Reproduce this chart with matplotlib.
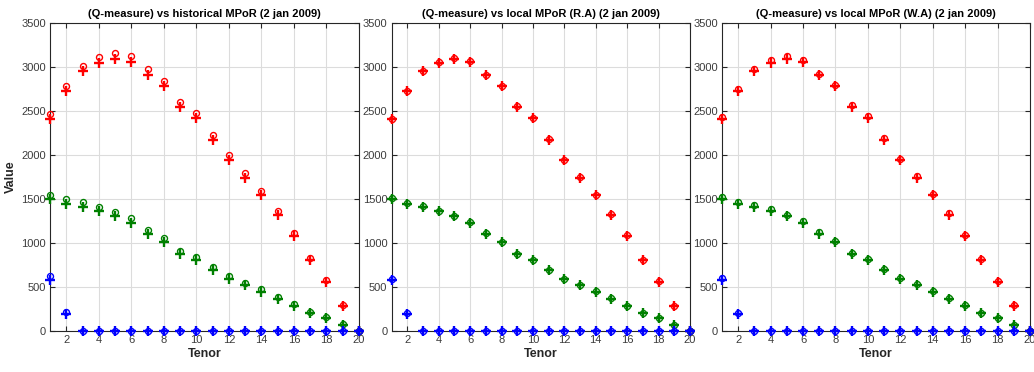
import numpy as np
import matplotlib
matplotlib.use("Agg")
import matplotlib.pyplot as plt

plt.rcParams['font.family'] = ['Liberation Sans', 'DejaVu Sans']

tenor = list(range(1, 21))

# Q-measure (plus markers), same in all panels
q_red = [2402, 2719, 2946, 3048, 3093, 3056, 2901, 2776, 2541, 2413,
         2172, 1937, 1741, 1541, 1322, 1080, 804, 559, 283, 0]
q_green = [1503, 1447, 1408, 1360, 1303, 1231, 1103, 1008, 872, 804,
           691, 589, 518, 445, 366, 283, 200, 144, 68, 0]
q_blue = [578, 189, 0, 0, 0, 0, 0, 0, 0, 0, 0, 0, 0, 0, 0, 0, 0, 0, 0, 0]

# historical MPoR (circles)
hist_red = [2466, 2784, 3014, 3116, 3158, 3119, 2972, 2836, 2598, 2473,
            2224, 1994, 1798, 1590, 1360, 1107, 831, 578, 295, 0]
hist_green = [1549, 1503, 1462, 1408, 1352, 1284, 1144, 1054, 906, 842,
              729, 623, 548, 476, 389, 302, 219, 155, 79, 0]
hist_blue = [623, 219, 0, 0, 0, 0, 0, 0, 0, 0, 0, 0, 0, 0, 0, 0, 0, 0, 0, 0]

# local MPoR (R.A)
ra_red = [2410, 2728, 2955, 3057, 3100, 3062, 2908, 2780, 2550, 2420,
          2180, 1943, 1748, 1548, 1328, 1086, 810, 563, 286, 0]
ra_green = [1508, 1455, 1414, 1366, 1309, 1237, 1110, 1014, 878, 809,
            696, 594, 522, 449, 370, 287, 203, 147, 70, 0]
ra_blue = [590, 205, 0, 0, 0, 0, 0, 0, 0, 0, 0, 0, 0, 0, 0, 0, 0, 0, 0, 0]

# local MPoR (W.A)
wa_red = [2428, 2745, 2972, 3074, 3117, 3080, 2923, 2796, 2562, 2436,
          2193, 1955, 1760, 1558, 1337, 1094, 816, 568, 290, 0]
wa_green = [1525, 1468, 1428, 1380, 1322, 1250, 1121, 1024, 888, 818,
            705, 601, 530, 456, 376, 292, 208, 150, 72, 0]
wa_blue = [598, 200, 0, 0, 0, 0, 0, 0, 0, 0, 0, 0, 0, 0, 0, 0, 0, 0, 0, 0]

titles = ["(Q-measure) vs historical MPoR (2 jan 2009)",
          "(Q-measure) vs local MPoR (R.A) (2 jan 2009)",
          "(Q-measure) vs local MPoR (W.A) (2 jan 2009)"]
circles = [(hist_red, hist_green, hist_blue),
           (ra_red, ra_green, ra_blue),
           (wa_red, wa_green, wa_blue)]

W, H = 1034, 372
fig = plt.figure(figsize=(W / 100, H / 100), dpi=100)
# axes boxes in pixels: left, right
boxes = [(50, 359), (391.6, 690), (722, 1030)]
bottom_px, top_px = 331, 22.7

colors = ['#ff0000', '#008000', '#0000ff']
axcol = '#262626'
labcol = '#3c3c3c'

for i, (l, r) in enumerate(boxes):
    ax = fig.add_axes([l / W, (H - bottom_px) / H, (r - l) / W, (bottom_px - top_px) / H])
    for c, cval, qval in zip(colors, circles[i], [q_red, q_green, q_blue]):
        ax.plot(tenor, cval, 'o', color=c, ms=4.3, mfc='none', mew=1.0, clip_on=False, zorder=3)
        ax.plot(tenor, qval, '+', color=c, ms=7.5, mew=1.7, clip_on=False, zorder=3)
    ax.set_xlim(1, 20)
    ax.set_ylim(0, 3500)
    ax.set_xticks(range(2, 21, 2))
    ax.set_yticks(range(0, 3501, 500))
    ax.grid(True, color='#dcdcdc', lw=0.8)
    ax.set_axisbelow(True)
    ax.tick_params(direction='in', top=True, right=True, length=3.5, width=0.8,
                   labelsize=8, color=axcol, labelcolor=labcol, pad=3)
    for s in ax.spines.values():
        s.set_color(axcol)
        s.set_linewidth(0.8)
    ax.set_title(titles[i], fontsize=8, fontweight='bold', color='black', pad=4)
    ax.set_xlabel("Tenor", fontsize=9, fontweight='bold', color=axcol, labelpad=2)
    if i == 0:
        ax.set_ylabel("Value", fontsize=9, fontweight='bold', color=axcol, labelpad=3)

fig.savefig("out.png", dpi=100)
